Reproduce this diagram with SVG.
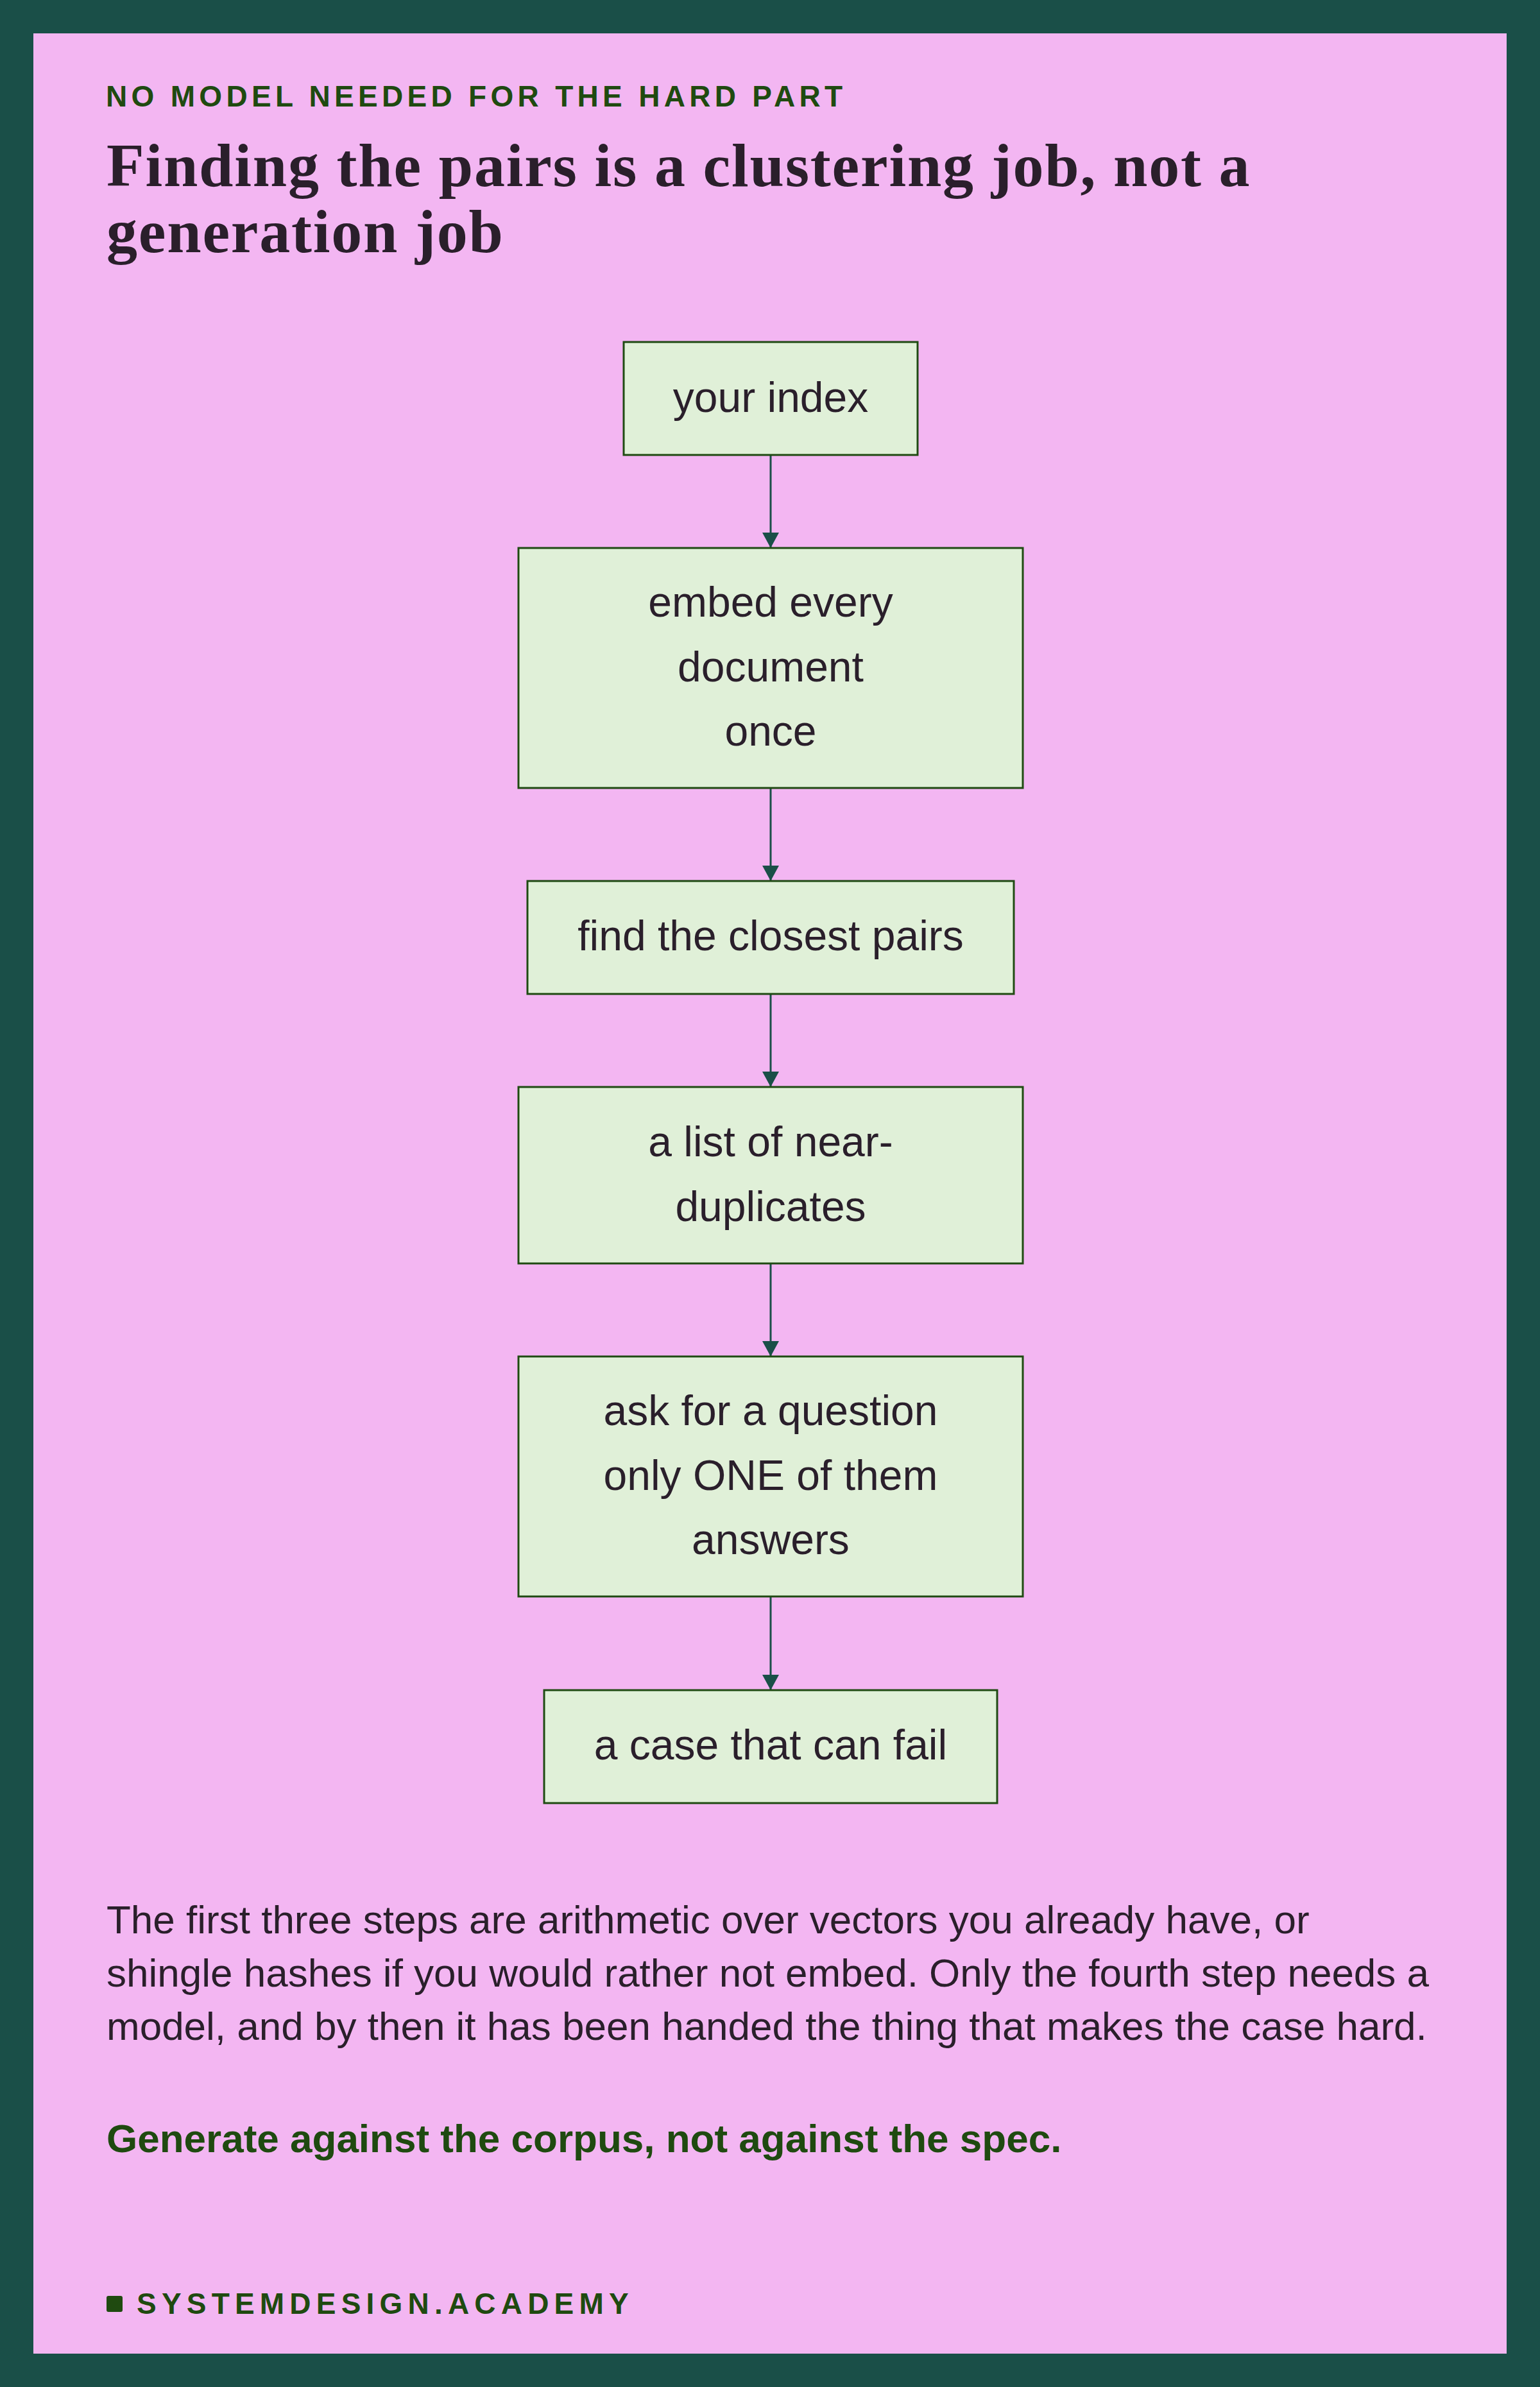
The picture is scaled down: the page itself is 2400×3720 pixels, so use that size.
<svg xmlns="http://www.w3.org/2000/svg" width="2400" height="3720" viewBox="0 0 2400 3720">
<defs>
<style>
.node rect{fill:#e0f0d8;stroke:#1f4a12;stroke-width:3}
.node text{font-family:"Liberation Sans",Arial,sans-serif;font-size:66px;fill:#2a1f2b;text-anchor:middle}
.conn path{stroke:#1a4f48;stroke-width:3;fill:none}
.body{font-family:"Liberation Sans",Arial,sans-serif;font-size:62px;fill:#2a1f2b}
</style>
<marker id="arr" markerUnits="userSpaceOnUse" markerWidth="24" markerHeight="26" refX="24" refY="13" orient="auto">
<path d="M0,0 L24,13 L0,26 z" fill="#1a4f48"/>
</marker>
</defs>
<rect x="0" y="0" width="2400" height="3720" fill="#1a4f48"/>
<rect x="52" y="52" width="2296" height="3616" fill="#f3b6f2"/>
<text x="165" y="166" font-family="'Liberation Sans',Arial,sans-serif" font-weight="bold" font-size="46" letter-spacing="6.3" fill="#1f4a10">NO MODEL NEEDED FOR THE HARD PART</text>
<g font-family="'Liberation Serif','Times New Roman',serif" font-weight="bold" font-size="96" letter-spacing="1.8" fill="#2a1f2b">
<text x="166" y="290">Finding the pairs is a clustering job, not a</text>
<text x="166" y="393">generation job</text>
</g>
<g id="connectors" class="conn">
<path d="M1201,709 V854" marker-end="url(#arr)"/>
<path d="M1201,1228 V1373" marker-end="url(#arr)"/>
<path d="M1201,1549 V1694" marker-end="url(#arr)"/>
<path d="M1201,1969 V2114" marker-end="url(#arr)"/>
<path d="M1201,2488 V2634" marker-end="url(#arr)"/>
</g>
<g id="n1" class="node"><rect x="972" y="533" width="458" height="176"/><text x="1201" y="642">your index</text></g>
<g id="n2" class="node"><rect x="808" y="854" width="786" height="374"/><text x="1201" y="961">embed every</text><text x="1201" y="1062">document</text><text x="1201" y="1162">once</text></g>
<g id="n3" class="node"><rect x="822" y="1373" width="758" height="176"/><text x="1201" y="1481">find the closest pairs</text></g>
<g id="n4" class="node"><rect x="808" y="1694" width="786" height="275"/><text x="1201" y="1802">a list of near-</text><text x="1201" y="1903">duplicates</text></g>
<g id="n5" class="node"><rect x="808" y="2114" width="786" height="374"/><text x="1201" y="2221">ask for a question</text><text x="1201" y="2322">only ONE of them</text><text x="1201" y="2422">answers</text></g>
<g id="n6" class="node"><rect x="848" y="2634" width="706" height="176"/><text x="1201" y="2742">a case that can fail</text></g>
<text class="body" x="166" y="3013">The first three steps are arithmetic over vectors you already have, or</text>
<text class="body" x="166" y="3096">shingle hashes if you would rather not embed. Only the fourth step needs a</text>
<text class="body" x="166" y="3179">model, and by then it has been handed the thing that makes the case hard.</text>
<text x="166" y="3354" font-family="'Liberation Sans',Arial,sans-serif" font-weight="bold" font-size="62" fill="#1f4a10">Generate against the corpus, not against the spec.</text>
<rect x="166" y="3578" width="25" height="25" rx="3" fill="#1f4a10"/>
<text x="213" y="3606" font-family="'Liberation Sans',Arial,sans-serif" font-weight="bold" font-size="46" letter-spacing="8.2" fill="#1f4a10">SYSTEMDESIGN.ACADEMY</text>
</svg>
